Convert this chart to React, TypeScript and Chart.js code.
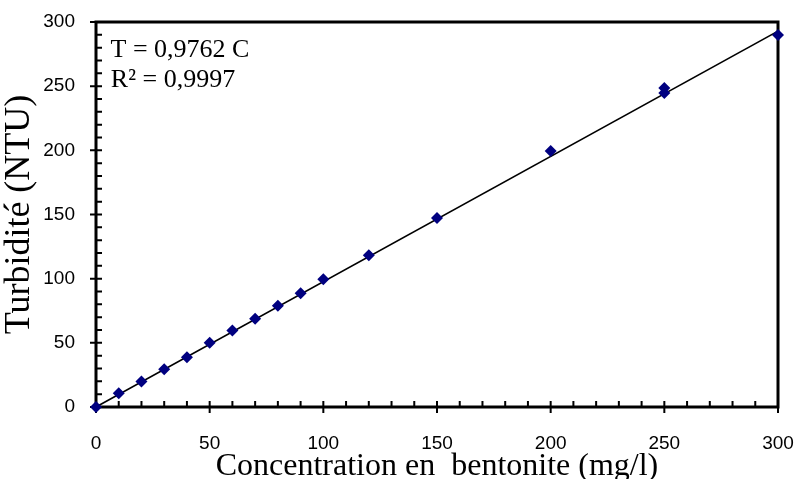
import React, { useEffect, useRef } from "react";
import { Chart, registerables } from "chart.js";

Chart.register(...registerables);

// Measured turbidity for each bentonite concentration
const concentrations = [0, 10, 20, 30, 40, 50, 60, 70, 80, 90, 100, 120, 150, 200, 250, 250, 300];
const turbidities = [0, 10.7, 19.8, 29.5, 38.8, 50, 59.6, 68.8, 78.8, 88.6, 99.5, 118.3, 147.3, 199.4, 244.7, 248.5, 289.9];

// Linear fit T = a·C through the origin
const slope = 0.9762;
const fitRange = [0, 300];

const axisMin = 0;
const axisMax = 300;
const majorStep = 50;
const minorStep = 10;

const equationLines = ["T = 0,9762 C", "R² = 0,9997"];
const xTitle = "Concentration en  bentonite (mg/l)";
const yTitle = "Turbidité (NTU)";

const SERIF = "'Liberation Serif', 'Times New Roman', serif";
const SANS = "'Liberation Sans', Arial, sans-serif";

// Box frame plus Excel-style major/minor tick marks
const framePlugin = {
  id: "frameTicks",
  beforeDatasetsDraw(chart: any) {
    const { ctx, chartArea, scales } = chart;
    const { left, right, top, bottom } = chartArea;
    const x = scales.x;
    const y = scales.y;
    ctx.save();
    ctx.strokeStyle = "#000";
    ctx.lineWidth = 3;
    ctx.strokeRect(left, top, right - left, bottom - top);
    ctx.lineWidth = 2;
    ctx.beginPath();
    for (let v = axisMin; v <= axisMax; v += minorStep) {
      const major = v % majorStep === 0;
      const px = x.getPixelForValue(v);
      ctx.moveTo(px, bottom - 6);
      ctx.lineTo(px, bottom + (major ? 6 : 1));
      const py = y.getPixelForValue(v);
      ctx.moveTo(left + 6, py);
      ctx.lineTo(left - (major ? 6 : 1), py);
    }
    ctx.stroke();
    ctx.restore();
  },
};

// Regression equation in the upper-left corner
const equationPlugin = {
  id: "equation",
  afterDraw(chart: any) {
    const { ctx, chartArea } = chart;
    ctx.save();
    ctx.fillStyle = "#000";
    ctx.font = `26px ${SERIF}`;
    ctx.textAlign = "center";
    ctx.textBaseline = "alphabetic";
    const cx = chartArea.left + 84;
    ctx.fillText(equationLines[0], cx, chartArea.top + 35);
    ctx.fillText(equationLines[1], cx - 7, chartArea.top + 65);
    ctx.restore();
  },
};

export default function App() {
  const canvasRef = useRef<HTMLCanvasElement | null>(null);

  useEffect(() => {
    if (!canvasRef.current) return;
    const points = concentrations.map((c, i) => ({ x: c, y: turbidities[i] }));
    const fit = fitRange.map((c) => ({ x: c, y: slope * c }));

    const chart = new Chart(canvasRef.current, {
      type: "scatter",
      data: {
        datasets: [
          {
            type: "scatter",
            data: points,
            pointStyle: "rectRot",
            pointRadius: 6,
            pointBackgroundColor: "#000080",
            pointBorderColor: "#000080",
            pointBorderWidth: 0,
            clip: false as any,
            order: 0,
          },
          {
            type: "line",
            data: fit,
            borderColor: "#000",
            borderWidth: 1.6,
            pointRadius: 0,
            fill: false,
            order: 1,
          } as any,
        ],
      },
      options: {
        animation: false,
        responsive: false,
        maintainAspectRatio: false,
        events: [],
        layout: { padding: { top: 22, right: 22, bottom: 0, left: 0 } },
        plugins: {
          legend: { display: false },
          tooltip: { enabled: false },
        },
        scales: {
          x: {
            type: "linear",
            min: axisMin,
            max: axisMax,
            grid: { display: false, drawTicks: false },
            border: { display: false },
            ticks: {
              stepSize: majorStep,
              padding: 25,
              color: "#000",
              font: { family: SANS, size: 19 },
              maxRotation: 0,
            },
            title: {
              display: true,
              text: xTitle,
              color: "#000",
              font: { family: SERIF, size: 32, lineHeight: 0.75 },
              padding: 0,
            },
            afterFit(scale: any) {
              scale.height = 72;
              scale.paddingLeft = 0;
              scale.paddingRight = 0;
            },
          },
          y: {
            type: "linear",
            min: axisMin,
            max: axisMax,
            grid: { display: false, drawTicks: false },
            border: { display: false },
            ticks: {
              stepSize: majorStep,
              padding: 21,
              color: "#000",
              font: { family: SANS, size: 19 },
            },
            title: {
              display: true,
              text: yTitle,
              color: "#000",
              font: { family: SERIF, size: 36, lineHeight: 1 },
              padding: { top: 2, bottom: 0 },
            },
            afterFit(scale: any) {
              scale.width = 96;
              scale.paddingTop = 0;
              scale.paddingBottom = 0;
            },
          },
        },
      },
      plugins: [framePlugin, equationPlugin],
    });
    return () => chart.destroy();
  }, []);

  return (
    <div style={{ position: "fixed", left: 0, top: 0, width: 800, height: 479, background: "#fff" }}>
      <canvas ref={canvasRef} width={800} height={479} style={{ display: "block" }} />
    </div>
  );
}
